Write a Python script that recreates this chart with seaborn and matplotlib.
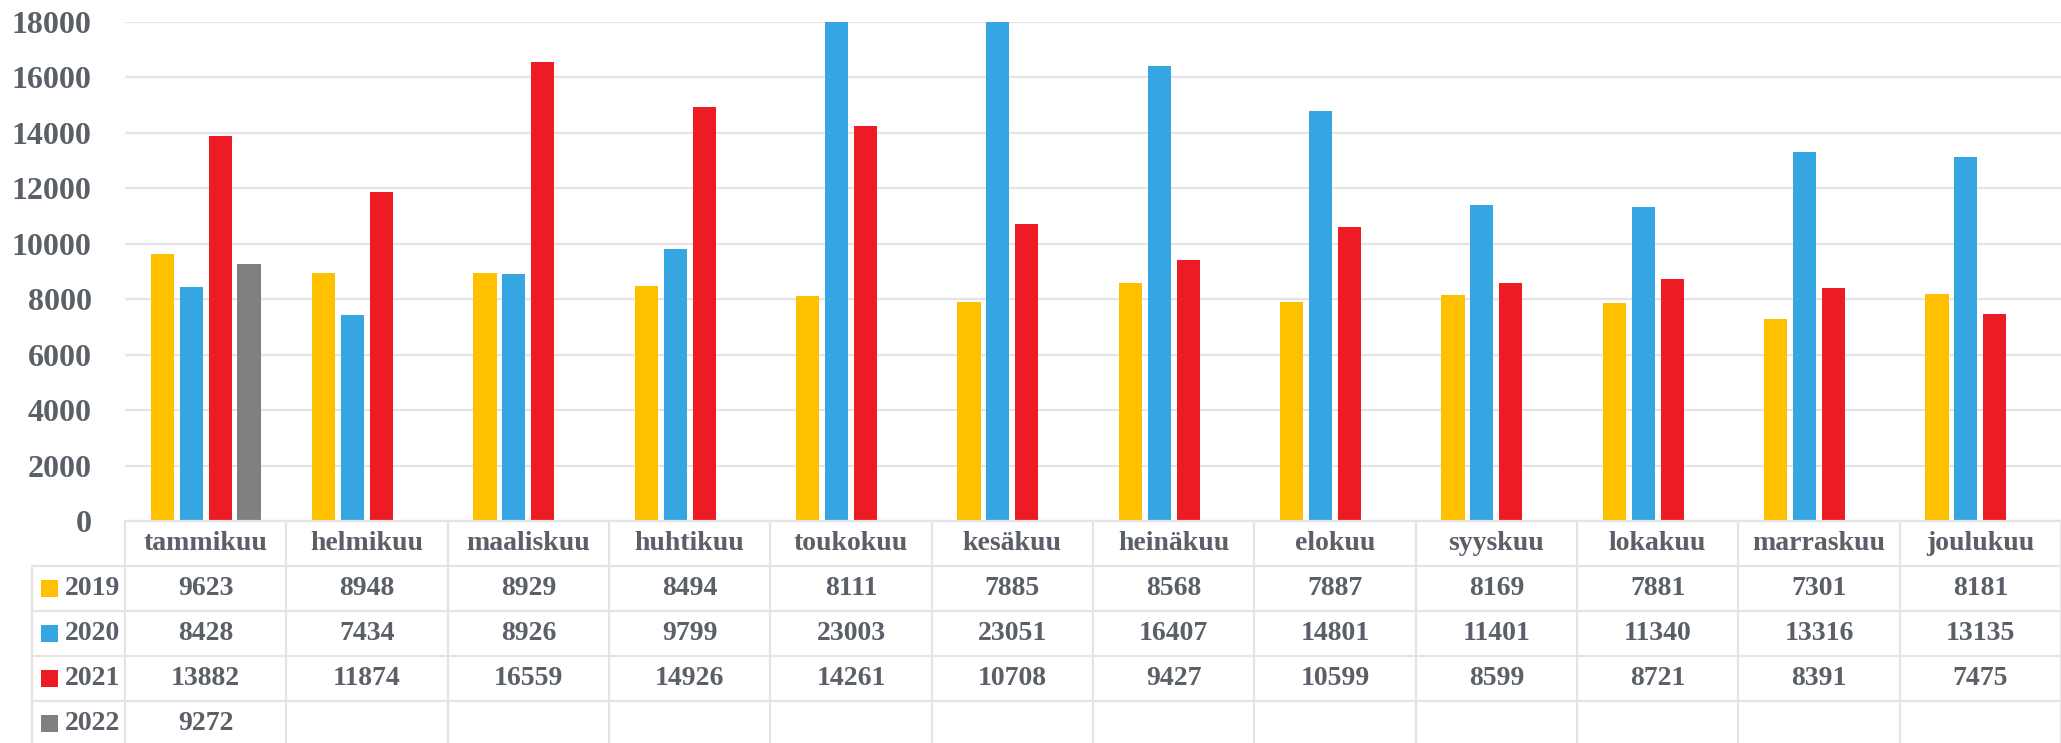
import matplotlib
matplotlib.use("Agg")
import matplotlib.pyplot as plt
import seaborn as sns
import pandas as pd
import numpy as np
from matplotlib.patches import Rectangle

months = ["tammikuu", "helmikuu", "maaliskuu", "huhtikuu", "toukokuu", "kesäkuu",
          "heinäkuu", "elokuu", "syyskuu", "lokakuu", "marraskuu", "joulukuu"]
years = ["2019", "2020", "2021", "2022"]
v2019 = [9623, 8948, 8929, 8494, 8111, 7885, 8568, 7887, 8169, 7881, 7301, 8181]
v2020 = [8428, 7434, 8926, 9799, 23003, 23051, 16407, 14801, 11401, 11340, 13316, 13135]
v2021 = [13882, 11874, 16559, 14926, 14261, 10708, 9427, 10599, 8599, 8721, 8391, 7475]
v2022 = [9272]
colors = ["#FFC000", "#36A6E2", "#ED1C24", "#808080"]
yticks = list(range(0, 18001, 2000))

series = [v2019, v2020, v2021, v2022]
rows = []
for y, vals in zip(years, series):
    for m, v in zip(months, vals):
        rows.append({"month": m, "year": y, "value": v})
df = pd.DataFrame(rows)

sns.set_style("white")
txt = "#5A5F68"
grid_c = "#E4E4E4"
plt.rcParams["font.family"] = ["Liberation Serif", "DejaVu Serif"]
plt.rcParams["font.weight"] = "bold"

W, H = 2061, 743
fig = plt.figure(figsize=(W / 100, H / 100), dpi=100)
ax_left, ax_bottom_px, ax_top_px = 125, 521, 22
ax_w, ax_h = W - ax_left, ax_bottom_px - ax_top_px
ax = fig.add_axes([ax_left / W, 1 - ax_bottom_px / H, ax_w / W, ax_h / H])

sns.barplot(data=df, x="month", y="value", hue="year", order=months, hue_order=years,
            palette=colors, width=0.716, gap=0.2, errorbar=None, legend=False,
            saturation=1, ax=ax, linewidth=0)

ax.set_xlim(-0.5, 11.5)
ax.set_ylim(0, 18000)
ax.set_yticks(yticks)
ax.set_yticklabels([str(t) for t in yticks])
ax.yaxis.grid(True, color=grid_c, linewidth=1.6)
ax.set_axisbelow(True)
ax.tick_params(axis="y", length=0, pad=24, labelsize=23, labelcolor=txt)
for lab in ax.get_yticklabels():
    lab.set_fontweight("bold")
ax.set_xticks([])
ax.set_xlabel("")
ax.set_ylabel("")
for s in ax.spines.values():
    s.set_visible(False)

# data table
px_per_cat = ax_w / 12.0
def xpx(px):  # figure pixel x -> data x
    return -0.5 + (px - ax_left) / px_per_cat
def ypx(d):  # pixels below axis -> axes fraction
    return -d / ax_h

tr = ax.get_xaxis_transform()
row_h = 45
lw = 1.6
leg_left = xpx(32)
# horizontal lines
ax.plot([-0.5, 11.5], [0, 0], transform=tr, clip_on=False, color=grid_c, lw=lw)
for k in range(1, 5):
    ax.plot([leg_left, 11.5], [ypx(row_h * k)] * 2, transform=tr, clip_on=False, color=grid_c, lw=lw)
# vertical lines
for i in range(13):
    ax.plot([-0.5 + i] * 2, [0, ypx(240)], transform=tr, clip_on=False, color=grid_c, lw=lw)
ax.plot([leg_left] * 2, [ypx(row_h), ypx(240)], transform=tr, clip_on=False, color=grid_c, lw=lw)

# header month names
for i, m in enumerate(months):
    ax.text(i, ypx(row_h / 2), m, transform=tr, ha="center", va="center",
            fontsize=20, color=txt, fontweight="bold")

# values and legend
for r, (y, vals, c) in enumerate(zip(years, series, colors)):
    yc = ypx(row_h * (r + 1) + row_h / 2)
    sq = 17
    ax.add_patch(Rectangle((xpx(41), yc - (sq / 2) / ax_h), sq / px_per_cat, sq / ax_h,
                           transform=tr, clip_on=False, facecolor=c, edgecolor="none"))
    ax.text(xpx(65), yc, y, transform=tr, ha="left", va="center",
            fontsize=20, color=txt, fontweight="bold")
    for i, v in enumerate(vals):
        ax.text(i, yc, str(v), transform=tr, ha="center", va="center",
                fontsize=20, color=txt, fontweight="bold")

fig.savefig("out.png", dpi=100)
